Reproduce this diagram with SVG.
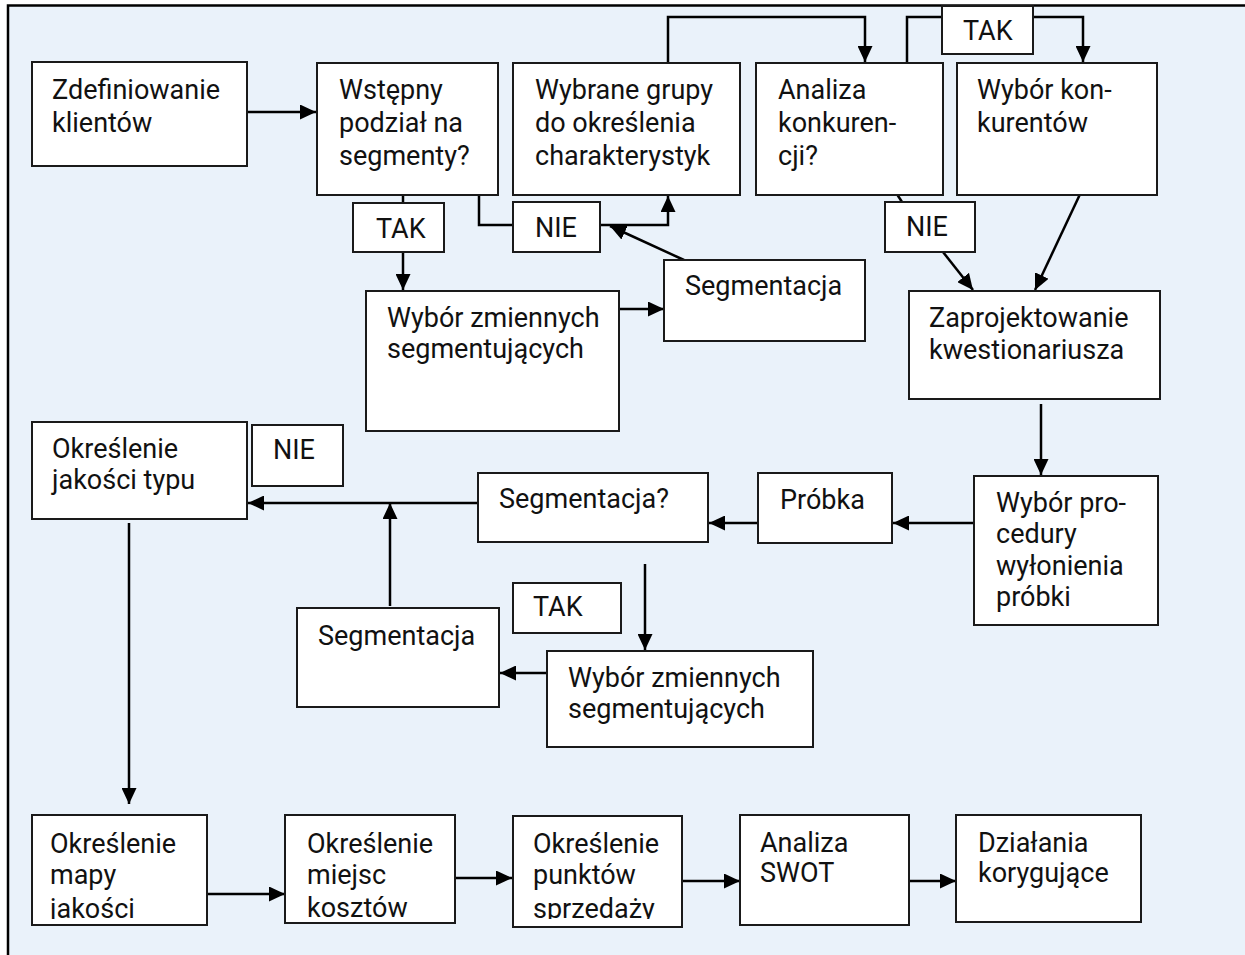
<svg xmlns="http://www.w3.org/2000/svg" width="1245" height="955" viewBox="0 0 1245 955">
<defs>
<style>
.box{fill:#fff;stroke:#1a1a1a;stroke-width:2}
.t{font-family:Roboto,"Liberation Sans",sans-serif;font-size:27px;fill:#111}
.c{fill:none;stroke:#000;stroke-width:2.5}
.a{marker-end:url(#arr)}
</style>
<marker id="arr" viewBox="0 0 16 15" markerWidth="16" markerHeight="15" refX="16" refY="7.5" orient="auto" markerUnits="userSpaceOnUse">
<path d="M0,0 L16,7.5 L0,15 z" fill="#000"/>
</marker>
<clipPath id="cb1"><rect x="32" y="815" width="175" height="104"/></clipPath>
<clipPath id="cb2"><rect x="285" y="815" width="170" height="107"/></clipPath>
<clipPath id="cb3"><rect x="513" y="816" width="169" height="103"/></clipPath>
</defs>
<rect x="0" y="0" width="1245" height="955" fill="#fff"/>
<rect x="8" y="5.5" width="1250" height="960" fill="#EAF2FA" stroke="#000" stroke-width="2.5"/>

<g id="connectors">
<line class="c a" x1="247" y1="112" x2="316" y2="112"/>
<line class="c" x1="403" y1="195" x2="403" y2="203"/>
<line class="c a" x1="403" y1="252" x2="403" y2="290"/>
<polyline class="c" points="479,185 479,225 513,225"/>
<polyline class="c a" points="600,225 668,225 668,196"/>
<line class="c a" x1="684" y1="260" x2="610" y2="226"/>
<line class="c a" x1="619" y1="309" x2="664" y2="309"/>
<polyline class="c a" points="668,63 668,17 865,17 865,62"/>
<polyline class="c" points="907,63 907,17 942,17"/>
<polyline class="c a" points="1033,17 1083,17 1083,62"/>
<line class="c" x1="893" y1="188" x2="902" y2="202"/>
<line class="c a" x1="943" y1="252" x2="973" y2="290"/>
<line class="c a" x1="1082" y1="190" x2="1035" y2="290"/>
<line class="c a" x1="1041" y1="404" x2="1041" y2="475"/>
<line class="c a" x1="974" y1="523" x2="893" y2="523"/>
<line class="c a" x1="758" y1="523" x2="709" y2="523"/>
<line class="c a" x1="478" y1="503" x2="248" y2="503"/>
<line class="c a" x1="645" y1="564" x2="645" y2="650"/>
<line class="c a" x1="547" y1="673" x2="500" y2="673"/>
<line class="c a" x1="390" y1="606" x2="390" y2="503"/>
<line class="c a" x1="129" y1="523" x2="129" y2="804"/>
<line class="c a" x1="207" y1="894" x2="285" y2="894"/>
<line class="c a" x1="455" y1="878" x2="512" y2="878"/>
<line class="c a" x1="682" y1="881" x2="740" y2="881"/>
<line class="c a" x1="909" y1="881" x2="956" y2="881"/>
</g>

<g id="n1"><rect class="box" x="32" y="62" width="215" height="104"/>
<text class="t" x="52" y="99">Zdefiniowanie</text><text class="t" x="52" y="132">klientów</text></g>
<g id="n2"><rect class="box" x="317" y="63" width="181" height="132"/>
<text class="t" x="339" y="99">Wstępny</text><text class="t" x="339" y="132">podział na</text><text class="t" x="339" y="165">segmenty?</text></g>
<g id="n3"><rect class="box" x="513" y="63" width="227" height="132"/>
<text class="t" x="535" y="99">Wybrane grupy</text><text class="t" x="535" y="132">do określenia</text><text class="t" x="535" y="165">charakterystyk</text></g>
<g id="n4"><rect class="box" x="756" y="63" width="187" height="132"/>
<text class="t" x="778" y="99">Analiza</text><text class="t" x="778" y="132">konkuren-</text><text class="t" x="778" y="165">cji?</text></g>
<g id="n5"><rect class="box" x="957" y="63" width="200" height="132"/>
<text class="t" x="977" y="99">Wybór kon-</text><text class="t" x="977" y="132">kurentów</text></g>
<g id="l1"><rect class="box" x="942" y="6" width="91" height="48"/>
<text class="t" x="963" y="40">TAK</text></g>
<g id="l2"><rect class="box" x="353" y="203" width="91" height="49"/>
<text class="t" x="376" y="238">TAK</text></g>
<g id="l3"><rect class="box" x="513" y="202" width="87" height="50"/>
<text class="t" x="535" y="237">NIE</text></g>
<g id="l4"><rect class="box" x="885" y="202" width="90" height="50"/>
<text class="t" x="906" y="236">NIE</text></g>
<g id="n6"><rect class="box" x="664" y="260" width="201" height="81"/>
<text class="t" x="685" y="295">Segmentacja</text></g>
<g id="n7"><rect class="box" x="366" y="291" width="253" height="140"/>
<text class="t" x="387" y="327">Wybór zmiennych</text><text class="t" x="387" y="358">segmentujących</text></g>
<g id="n8"><rect class="box" x="909" y="291" width="251" height="108"/>
<text class="t" x="929" y="327">Zaprojektowanie</text><text class="t" x="929" y="359">kwestionariusza</text></g>
<g id="n9"><rect class="box" x="32" y="422" width="215" height="97"/>
<text class="t" x="52" y="458">Określenie</text><text class="t" x="52" y="489">jakości typu</text></g>
<g id="l5"><rect class="box" x="252" y="425" width="91" height="61"/>
<text class="t" x="273" y="459">NIE</text></g>
<g id="n10"><rect class="box" x="478" y="473" width="230" height="69"/>
<text class="t" x="499" y="508">Segmentacja?</text></g>
<g id="n11"><rect class="box" x="758" y="473" width="134" height="70"/>
<text class="t" x="780" y="509">Próbka</text></g>
<g id="n12"><rect class="box" x="974" y="476" width="184" height="149"/>
<text class="t" x="996" y="512">Wybór pro-</text><text class="t" x="996" y="543">cedury</text><text class="t" x="996" y="575">wyłonienia</text><text class="t" x="996" y="606">próbki</text></g>
<g id="l6"><rect class="box" x="513" y="583" width="108" height="50"/>
<text class="t" x="533" y="616">TAK</text></g>
<g id="n13"><rect class="box" x="297" y="608" width="202" height="99"/>
<text class="t" x="318" y="645">Segmentacja</text></g>
<g id="n14"><rect class="box" x="547" y="651" width="266" height="96"/>
<text class="t" x="568" y="687">Wybór zmiennych</text><text class="t" x="568" y="718">segmentujących</text></g>
<g id="n15"><rect class="box" x="32" y="815" width="175" height="110"/>
<g clip-path="url(#cb1)"><text class="t" x="50" y="853">Określenie</text><text class="t" x="50" y="884">mapy</text><text class="t" x="50" y="918">jakości</text></g></g>
<g id="n16"><rect class="box" x="285" y="815" width="170" height="108"/>
<g clip-path="url(#cb2)"><text class="t" x="307" y="853">Określenie</text><text class="t" x="307" y="884">miejsc</text><text class="t" x="307" y="917">kosztów</text></g></g>
<g id="n17"><rect class="box" x="513" y="816" width="169" height="111"/>
<g clip-path="url(#cb3)"><text class="t" x="533" y="853">Określenie</text><text class="t" x="533" y="884">punktów</text><text class="t" x="533" y="918">sprzedaży</text></g></g>
<g id="n18"><rect class="box" x="740" y="815" width="169" height="110"/>
<text class="t" x="760" y="852">Analiza</text><text class="t" x="760" y="882">SWOT</text></g>
<g id="n19"><rect class="box" x="956" y="815" width="185" height="107"/>
<text class="t" x="978" y="852">Działania</text><text class="t" x="978" y="882">korygujące</text></g>
</svg>
